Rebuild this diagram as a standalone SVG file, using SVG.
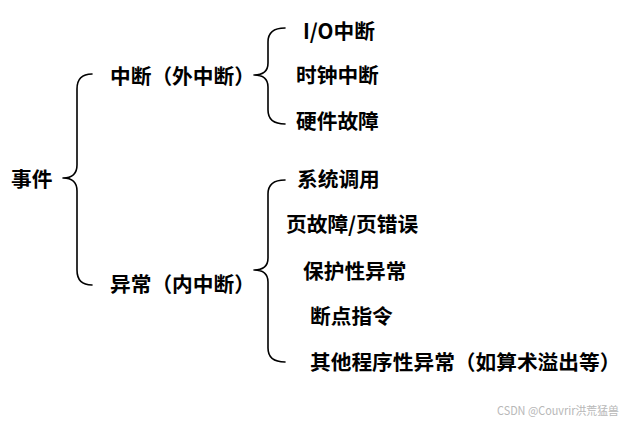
<svg xmlns="http://www.w3.org/2000/svg" width="628" height="423" viewBox="0 0 628 423">
<style>
.t{font-family:"Noto Sans CJK SC","Noto Sans",sans-serif;font-weight:700;font-size:20.7px;fill:#000}
.b{fill:none;stroke:#000;stroke-width:1.6;stroke-linecap:round;stroke-linejoin:round}
.w{font-family:"Noto Sans CJK SC","Noto Sans",sans-serif;font-size:11.5px;fill:#b8b8b8}
</style>
<rect width="628" height="423" fill="#fff"/>
<g id="connectors">
<path class="b" d="M92,74 Q77,74 77,89 L77,165 Q77,178 63,178 Q77,178 77,191 L77,270 Q77,285 92,285"/>
<path class="b" d="M285,28 Q268,28 268,42 L268,63 Q268,75 254,75 Q268,75 268,87 L268,110 Q268,124 285,124"/>
<path class="b" d="M285,180 Q268,180 268,194 L268,258 Q268,270 254,270 Q268,270 268,282 L268,348 Q268,362 285,362"/>
</g>
<g id="n-root"><text class="t" x="11" y="187">事件</text></g>
<g id="n-int"><text class="t" x="110" y="84">中断（外中断）</text></g>
<g id="n-exc"><text class="t" x="110" y="292">异常（内中断）</text></g>
<g id="n-io"><text class="t" x="303" y="39">I/O中断</text></g>
<g id="n-clock"><text class="t" x="296" y="83">时钟中断</text></g>
<g id="n-hw"><text class="t" x="296" y="129">硬件故障</text></g>
<g id="n-sys"><text class="t" x="297" y="187">系统调用</text></g>
<g id="n-page"><text class="t" x="286" y="232">页故障/页错误</text></g>
<g id="n-prot"><text class="t" x="303" y="279">保护性异常</text></g>
<g id="n-bp"><text class="t" x="310" y="324">断点指令</text></g>
<g id="n-other"><text class="t" x="310" y="370">其他程序性异常（如算术溢出等）</text></g>
<text class="w" x="497" y="415" textLength="122" lengthAdjust="spacingAndGlyphs">CSDN @Couvrir洪荒猛兽</text>
</svg>
